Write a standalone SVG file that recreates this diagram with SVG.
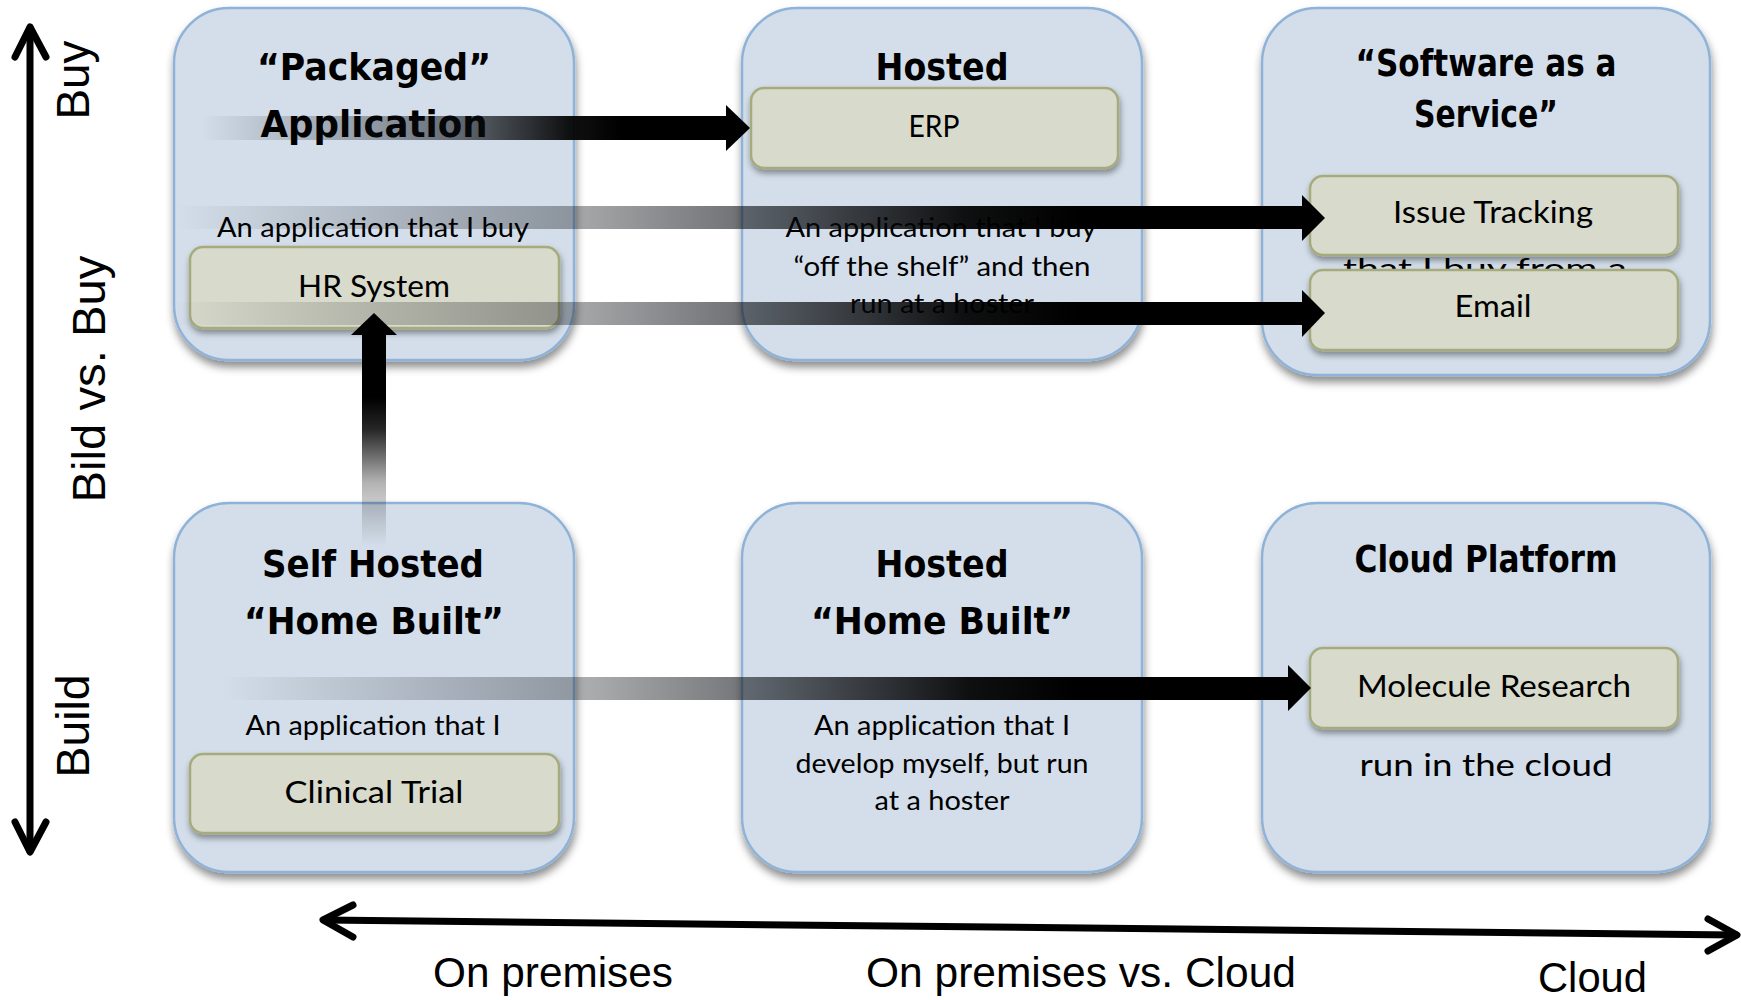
<svg xmlns="http://www.w3.org/2000/svg" width="1741" height="1000" viewBox="0 0 1741 1000">
<defs>
<style>
.box{fill:#D3DEEA;stroke:#8FB3D8;stroke-width:2.5;filter:url(#sh)}
.inner{fill:#D8DACC;stroke:#A6AB7E;stroke-width:2.5;filter:url(#sh2)}
.title{font-family:"DejaVu Sans","Liberation Sans",sans-serif;font-weight:bold;font-size:38px;text-anchor:middle;fill:#000}
.body{font-family:Lato,"Open Sans",sans-serif;font-size:27px;text-anchor:middle;fill:#000}
.lbl{font-family:Lato,"Open Sans",sans-serif;font-size:30px;text-anchor:middle;fill:#000}
.axis{font-family:"Liberation Sans",Arial,sans-serif;font-size:46px;fill:#000}
.axb{font-family:"Liberation Sans",Arial,sans-serif;font-size:42px;fill:#000}
.axl{stroke:#000;stroke-width:7;fill:none;stroke-linecap:round;stroke-linejoin:round}
.head{fill:#000}
</style>
<filter id="sh" x="-10%" y="-10%" width="125%" height="125%">
<feDropShadow dx="1" dy="6" stdDeviation="4" flood-color="#000" flood-opacity="0.45"/>
</filter>
<filter id="sh2" x="-10%" y="-20%" width="125%" height="150%">
<feDropShadow dx="1" dy="4" stdDeviation="3" flood-color="#000" flood-opacity="0.4"/>
</filter>
<linearGradient id="gh" x1="0" y1="0" x2="1" y2="0">
<stop offset="0" stop-color="#000" stop-opacity="0"/>
<stop offset="0.35" stop-color="#0a0d12" stop-opacity="0.35"/>
<stop offset="0.5" stop-color="#0a0d12" stop-opacity="0.58"/>
<stop offset="0.7" stop-color="#000" stop-opacity="0.93"/>
<stop offset="0.8" stop-color="#000" stop-opacity="1"/>
<stop offset="1" stop-color="#000" stop-opacity="1"/>
</linearGradient>
<linearGradient id="gv" x1="0" y1="1" x2="0" y2="0">
<stop offset="0" stop-color="#000" stop-opacity="0"/>
<stop offset="0.3" stop-color="#000" stop-opacity="0.3"/>
<stop offset="0.55" stop-color="#000" stop-opacity="0.85"/>
<stop offset="0.7" stop-color="#000" stop-opacity="1"/>
<stop offset="1" stop-color="#000" stop-opacity="1"/>
</linearGradient>
</defs>

<g id="axes">
<line class="axl" x1="30" y1="28" x2="30" y2="851"/>
<polyline class="axl" points="15,57 30,27 46,57"/>
<polyline class="axl" points="15,822 30,852 46,822"/>
<line class="axl" x1="324" y1="920" x2="1736" y2="935"/>
<polyline class="axl" points="353,905 323,920 353,937"/>
<polyline class="axl" points="1708,919 1737,935 1708,951"/>
<text class="axis" text-anchor="middle" transform="translate(89,80) rotate(-90)" textLength="79" lengthAdjust="spacingAndGlyphs">Buy</text>
<text class="axis" text-anchor="middle" transform="translate(105,379) rotate(-90)" textLength="247" lengthAdjust="spacingAndGlyphs">Bild vs. Buy</text>
<text class="axis" text-anchor="middle" transform="translate(89,726) rotate(-90)" textLength="103" lengthAdjust="spacingAndGlyphs">Build</text>
<text class="axb" x="433" y="987" textLength="240" lengthAdjust="spacingAndGlyphs">On premises</text>
<text class="axb" x="866" y="987" textLength="430" lengthAdjust="spacingAndGlyphs">On premises vs. Cloud</text>
<text class="axb" x="1538" y="992" textLength="109" lengthAdjust="spacingAndGlyphs">Cloud</text>
</g>

<g id="packaged">
<rect class="box" x="174" y="8" width="400" height="352" rx="55"/>
<text class="title" x="374" y="80" textLength="234" lengthAdjust="spacingAndGlyphs">“Packaged”</text>
<text class="title" x="374" y="137" textLength="227" lengthAdjust="spacingAndGlyphs">Application</text>
<text class="body" x="373" y="237" textLength="312" lengthAdjust="spacingAndGlyphs">An application that I buy</text>
</g>

<g id="hosted">
<rect class="box" x="742" y="8" width="400" height="352" rx="55"/>
<text class="title" x="942" y="80" textLength="133" lengthAdjust="spacingAndGlyphs">Hosted</text>
<text class="body" x="941" y="237" textLength="311" lengthAdjust="spacingAndGlyphs">An application that I buy</text>
<text class="body" x="942" y="276" textLength="297" lengthAdjust="spacingAndGlyphs">“off the shelf” and then</text>
<text class="body" x="942" y="313" textLength="184" lengthAdjust="spacingAndGlyphs">run at a hoster</text>
</g>

<g id="saas">
<rect class="box" x="1262" y="8" width="448" height="367" rx="55"/>
<text class="title" x="1486" y="76" textLength="261" lengthAdjust="spacingAndGlyphs">“Software as a</text>
<text class="title" x="1486" y="127" textLength="144" lengthAdjust="spacingAndGlyphs">Service”</text>
<text class="body" x="1485" y="278" textLength="284" lengthAdjust="spacingAndGlyphs">that I buy from a</text>
</g>

<g id="self-hosted">
<rect class="box" x="174" y="503" width="400" height="369" rx="55"/>
<text class="title" x="373" y="577" textLength="222" lengthAdjust="spacingAndGlyphs">Self Hosted</text>
<text class="title" x="374" y="634" textLength="260" lengthAdjust="spacingAndGlyphs">“Home Built”</text>
<text class="body" x="373" y="735" textLength="255" lengthAdjust="spacingAndGlyphs">An application that I</text>
</g>

<g id="hosted-home">
<rect class="box" x="742" y="503" width="400" height="369" rx="55"/>
<text class="title" x="942" y="577" textLength="133" lengthAdjust="spacingAndGlyphs">Hosted</text>
<text class="title" x="942" y="634" textLength="262" lengthAdjust="spacingAndGlyphs">“Home Built”</text>
<text class="body" x="942" y="735" textLength="256" lengthAdjust="spacingAndGlyphs">An application that I</text>
<text class="body" x="942" y="773" textLength="293" lengthAdjust="spacingAndGlyphs">develop myself, but run</text>
<text class="body" x="942" y="810" textLength="135" lengthAdjust="spacingAndGlyphs">at a hoster</text>
</g>

<g id="cloud-platform">
<rect class="box" x="1262" y="503" width="448" height="369" rx="55"/>
<text class="title" x="1486" y="572" textLength="263" lengthAdjust="spacingAndGlyphs">Cloud Platform</text>
<text class="body" x="1486" y="776" style="font-size:31px" textLength="253" lengthAdjust="spacingAndGlyphs">run in the cloud</text>
</g>

<g id="erp">
<rect class="inner" x="751" y="88" width="367" height="80" rx="13"/>
<text class="lbl" x="934" y="137" textLength="51" lengthAdjust="spacingAndGlyphs">ERP</text>
</g>
<g id="hr-system">
<rect class="inner" x="190" y="247" width="369" height="81" rx="13"/>
<text class="lbl" x="374" y="297" textLength="152" lengthAdjust="spacingAndGlyphs">HR System</text>
</g>
<g id="issue-tracking">
<rect class="inner" x="1310" y="176" width="368" height="79" rx="13"/>
<text class="lbl" x="1493" y="223" textLength="200" lengthAdjust="spacingAndGlyphs">Issue Tracking</text>
</g>
<g id="email">
<rect class="inner" x="1310" y="270" width="368" height="80" rx="13"/>
<text class="lbl" x="1493" y="317" textLength="77" lengthAdjust="spacingAndGlyphs">Email</text>
</g>
<g id="clinical-trial">
<rect class="inner" x="190" y="754" width="369" height="79" rx="13"/>
<text class="lbl" x="374" y="803" textLength="179" lengthAdjust="spacingAndGlyphs">Clinical Trial</text>
</g>
<g id="molecule-research">
<rect class="inner" x="1310" y="648" width="368" height="80" rx="13"/>
<text class="lbl" x="1494" y="697" textLength="274" lengthAdjust="spacingAndGlyphs">Molecule Research</text>
</g>

<g id="connectors">
<rect x="200" y="116" width="527" height="24" fill="url(#gh)"/>
<polygon class="head" points="726,105 750,128 726,151"/>
<rect x="175" y="206" width="1128" height="23" fill="url(#gh)"/>
<polygon class="head" points="1302,195 1325,218 1302,241"/>
<rect x="170" y="302" width="1133" height="23" fill="url(#gh)"/>
<polygon class="head" points="1302,290 1325,313 1302,337"/>
<rect x="220" y="677" width="1069" height="23" fill="url(#gh)"/>
<polygon class="head" points="1288,665 1311,688 1288,711"/>
<rect x="362" y="334" width="24" height="212" fill="url(#gv)"/>
<polygon class="head" points="351,335 374,313 397,335"/>
</g>
</svg>
